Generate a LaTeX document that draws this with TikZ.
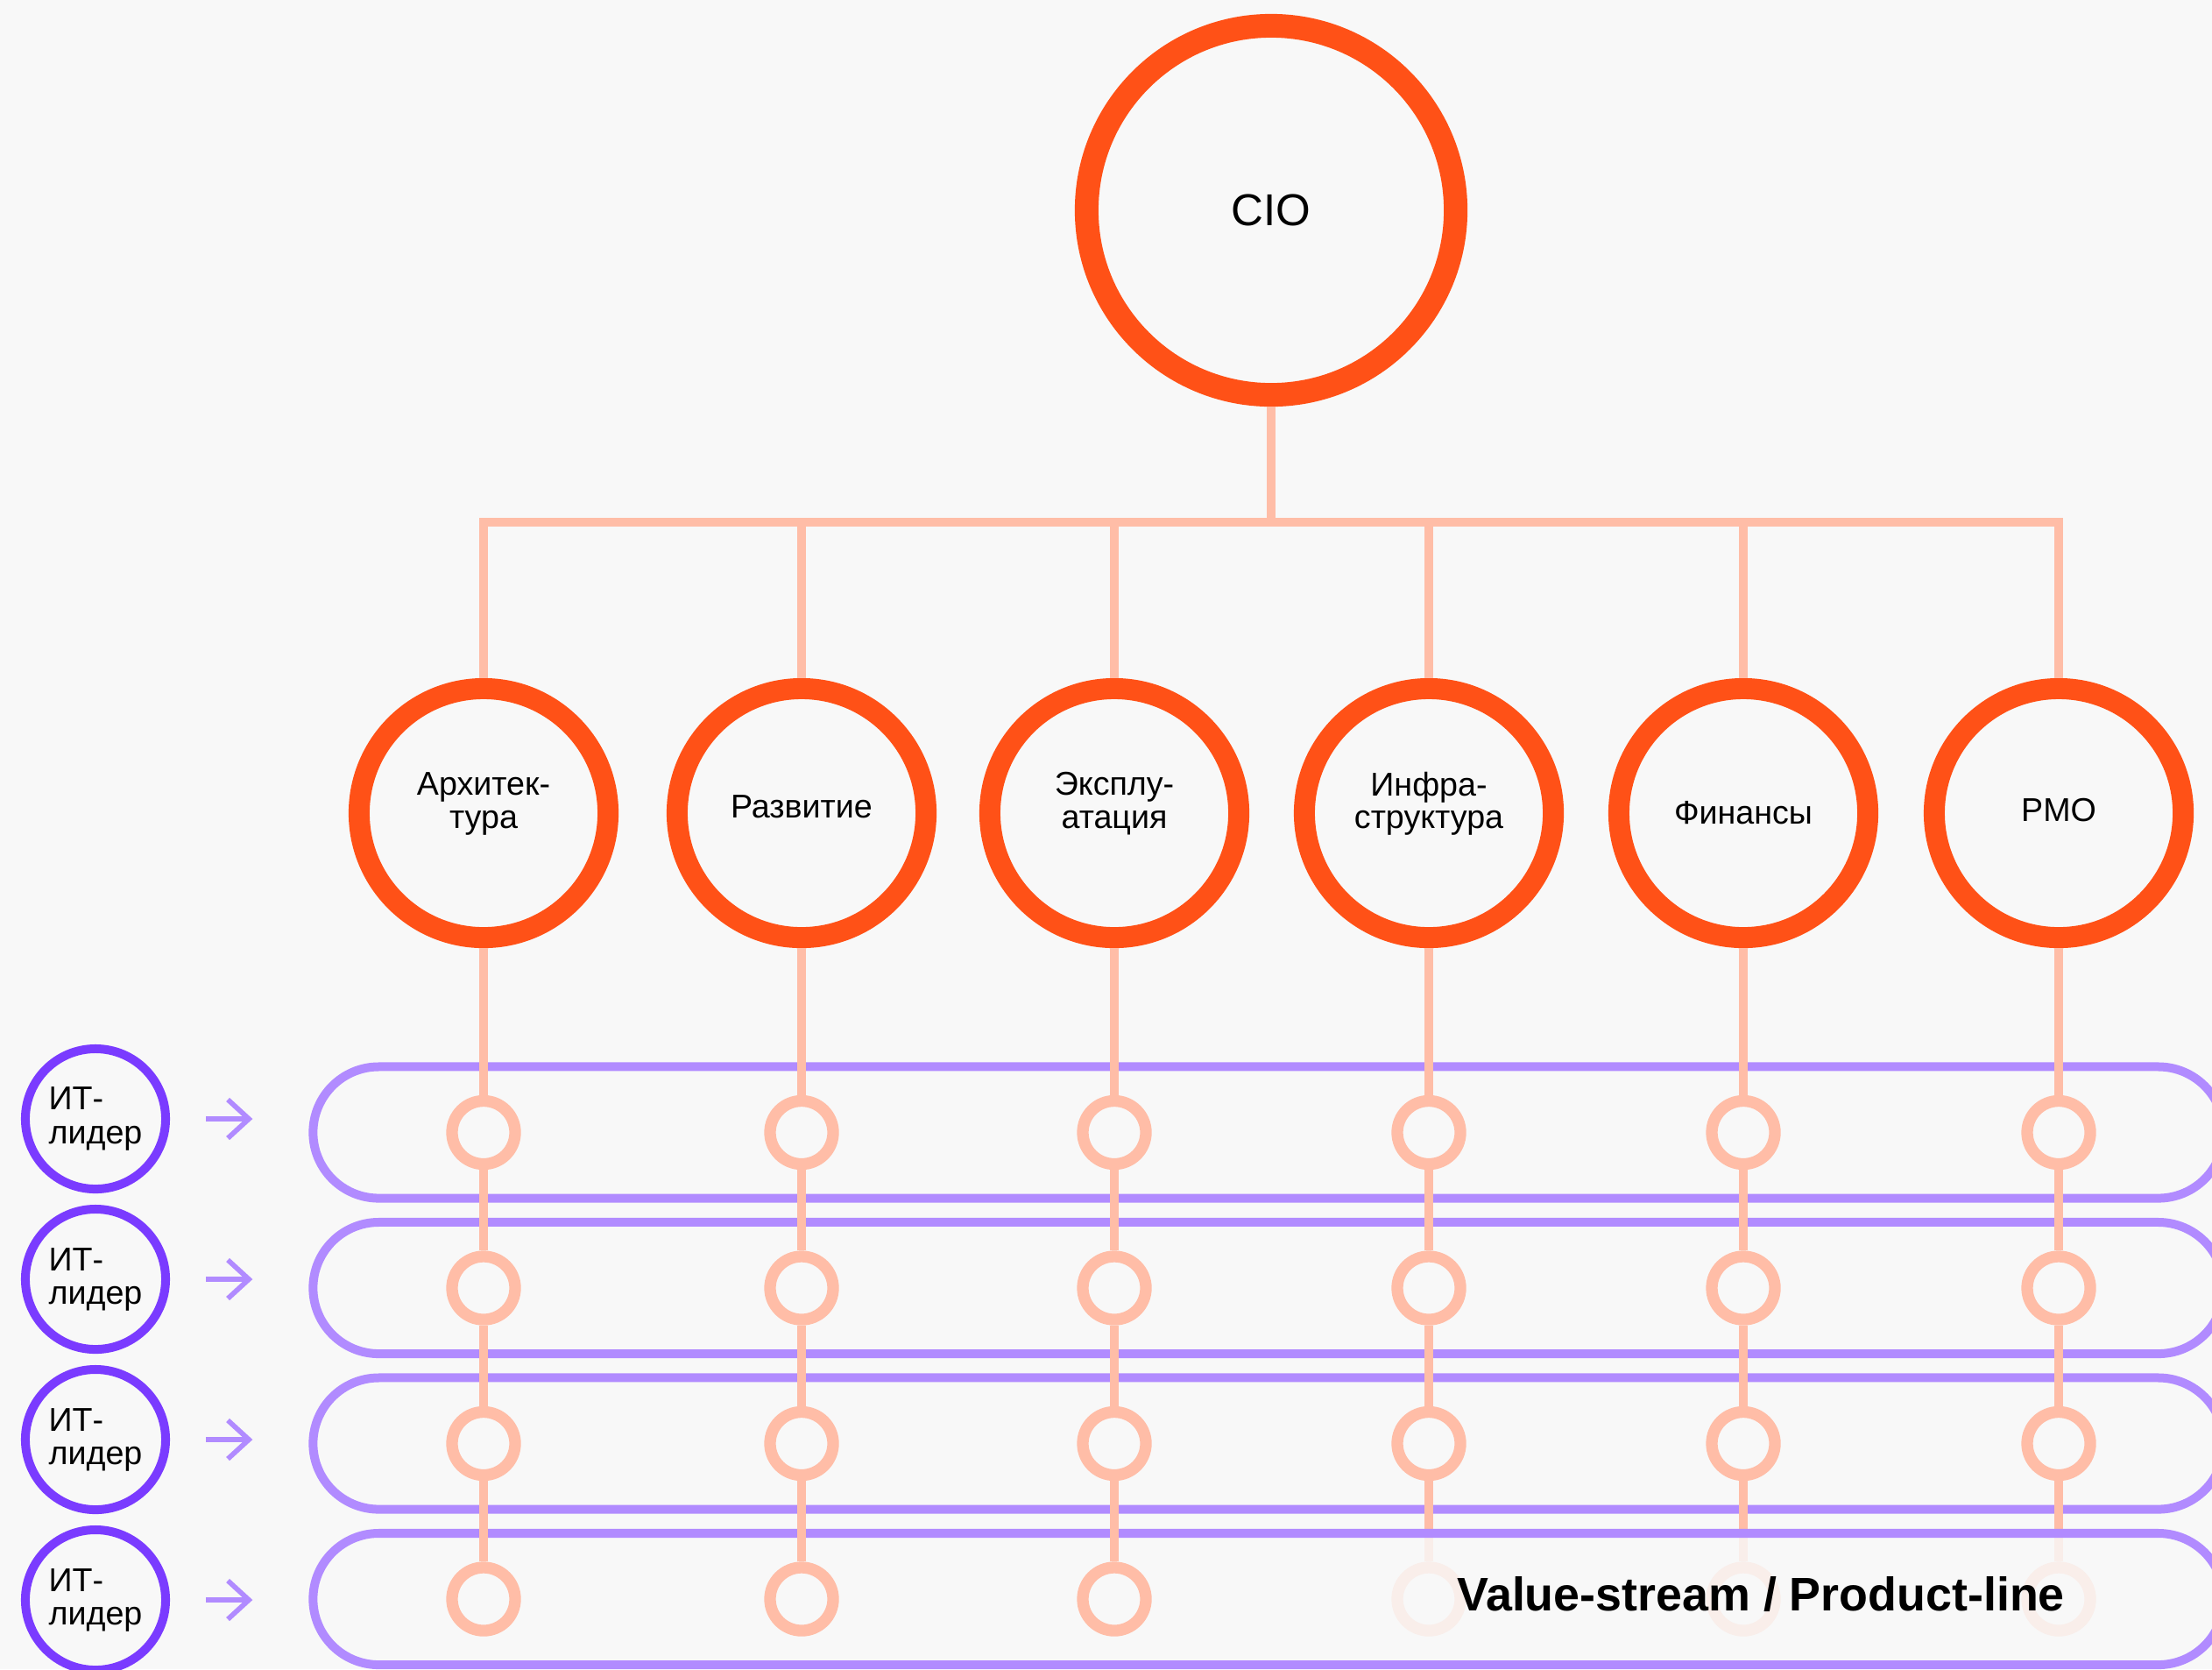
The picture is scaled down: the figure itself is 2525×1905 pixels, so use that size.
\documentclass[tikz,border=0pt]{standalone}
\usepackage{fontspec}
\setmainfont{Liberation Sans}
\usetikzlibrary{arrows.meta,shapes.misc,calc}
\definecolor{bgc}{HTML}{F8F8F8}
\definecolor{hubc}{HTML}{FF5117}
\definecolor{linkc}{HTML}{FFBDA7}
\definecolor{fadec}{HTML}{F9EEEA}
\definecolor{lanec}{HTML}{B18BFF}
\definecolor{leaderc}{HTML}{7A3BFF}
\begin{document}
\begin{tikzpicture}[x=0.01cm,y=-0.01cm,
  hub/.style={circle, draw=hubc, line width=0.27cm, minimum size=4.21cm, inner sep=0pt,
    font=\fontsize{14.5}{16}\selectfont},
  dept/.style={circle, draw=hubc, line width=0.24cm, minimum size=2.84cm, inner sep=0pt},
  dlabel/.style={align=center, inner sep=0pt, font=\fontsize{10.7}{10.6}\selectfont},
  pin/.style={circle, draw=linkc, line width=0.133cm, minimum size=0.72cm, inner sep=0pt},
  fadedpin/.style={pin, draw=fadec},
  lane/.style={rounded rectangle, draw=lanec, line width=0.1cm, minimum width=21.8cm,
    minimum height=1.5cm, inner sep=0pt},
  leader/.style={circle, draw=leaderc, line width=0.1cm, minimum size=1.6cm, inner sep=0pt,
    align=left, font=\fontsize{10.7}{10.85}\selectfont},
  link/.style={draw=linkc, line width=0.105cm},
  fadedlink/.style={link, draw=fadec},
  feed/.style={draw=lanec, line width=0.057cm, -{Straight Barb[length=0.24cm,width=0.44cm]}},
  vs/.style={inner sep=0pt, font=\fontsize{15.3}{18}\selectfont\bfseries},
]
\clip (0,0) rectangle (2525,1905);
\fill[bgc] (0,0) rectangle (2525,1905);

% value-stream lanes
\foreach \r/\y in {1/1292.5, 2/1470, 3/1647.5}
  \node[lane] (R\r) at (1448,\y) {};

% CIO and departments
\node[hub] (cio) at (1451,240) {CIO};
\foreach \c/\x in {1/552,2/915,3/1272,4/1631,5/1990,6/2350}
  \node[dept] (d\c) at (\x,928) {};

\node[dlabel] (d1t) at ([yshift=0.105cm]d1.center) {Архитек-\\тура};
\node[dlabel] (d2t) at ([yshift=0.075cm]d2.center) {Развитие};
\node[dlabel] (d3t) at ([yshift=0.11cm]d3.center) {Эксплу-\\атация};
\node[dlabel] (d4t) at ([yshift=0.11cm]d4.center) {Инфра-\\структура};
\node[dlabel] (d5t) at (d5.center) {Финансы};
\node[dlabel] (d6t) at ([yshift=0.038cm]d6.center) {PMO};

% pins where departments meet lanes
\foreach \c/\x in {1/552,2/915,3/1272,4/1631,5/1990,6/2350}
  \foreach \r/\y in {1/1292.5,2/1470,3/1647.5}
    \node[pin] (s\r\c) at (\x,\y) {};
\foreach \c/\x in {1/552,2/915,3/1272}
  \node[pin] (s4\c) at (\x,1825) {};
\foreach \c/\x in {4/1631,5/1990,6/2350}
  \node[fadedpin] (s4\c) at (\x,1825) {};

% reporting lines
\coordinate (bar) at (1451,596);
\draw[link] (cio.south) -- (bar);
\draw[link, line join=miter] (d1.north) |- (bar) -| (d6.north);
\foreach \c in {2,...,5}
  \draw[link] (d\c.north) -- (d\c.north |- bar);

\foreach \c in {1,...,6} {
  \draw[link] (d\c.south) -- (s1\c.north);
  \draw[link] (s1\c.south) -- (s2\c.north);
  \draw[link] (s2\c.south) -- (s3\c.north);
}
\coordinate (r4top) at (1448,1750);
\foreach \c in {4,5,6} {
  \draw[link] (s3\c.south) -- (s3\c.south |- r4top);
  \draw[fadedlink] (s3\c.south |- r4top) -- (s4\c.north);
}

\node[lane] (R4) at (1448,1825) {};
\foreach \c in {1,2,3}
  \draw[link] (s3\c.south) -- (s4\c.north);

% IT leaders
\foreach \r/\y in {1/1277,2/1460,3/1643,4/1826}
  \node[leader] (L\r) at (109,\y) {ИТ-\\лидер};
\foreach \r in {1,...,4}
  \draw[feed, shorten <=0.41cm, shorten >=0.64cm] (L\r.east) -- (L\r.east -| R\r.west);

\node[vs, anchor=base] (vstext) at (2010,1838) {Value-stream / Product-line};
\end{tikzpicture}
\end{document}
